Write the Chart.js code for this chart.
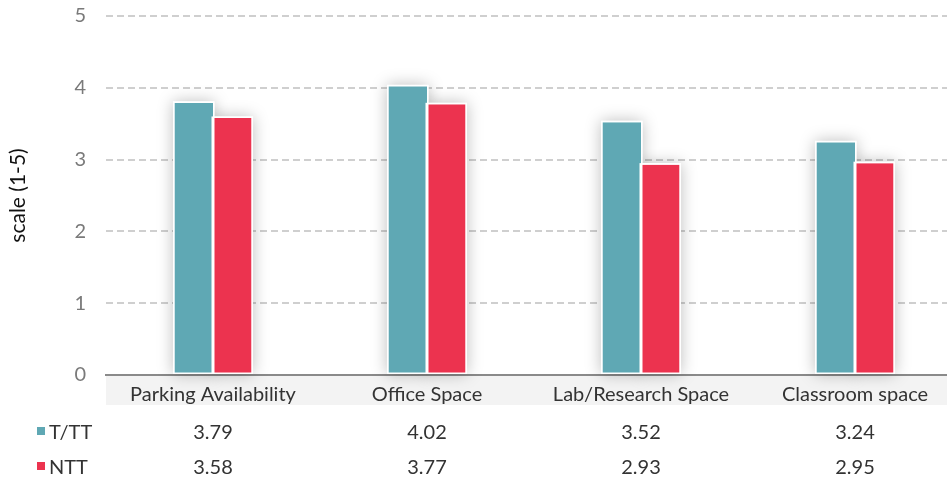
<!DOCTYPE html>
<html><head><meta charset="utf-8">
<script src="https://cdn.jsdelivr.net/npm/chart.js@4"></script>
<style>
html,body{margin:0;padding:0;background:#fff;overflow:hidden;width:947px;height:479px;}
#wrap{position:relative;width:962px;height:495px;margin-top:-16px;}
</style></head>
<body><div id="wrap"><canvas id="c"></canvas></div>
<script>
const categories = ["Parking Availability", "Office Space", "Lab/Research Space", "Classroom space"];
const seriesNames = ["T/TT", "NTT"];
const ttValues = [3.79, 4.02, 3.52, 3.24];
const nttValues = [3.58, 3.77, 2.93, 2.95];
const yTicks = [0, 1, 2, 3, 4, 5];
const colors = ["#5fa8b4", "#ec334f"];
const FONT = "Lato, 'Open Sans', sans-serif";

const shadowPlugin = {
  id: 'shadowBand',
  beforeDraw(chart) {
    const {ctx, chartArea} = chart;
    ctx.save();
    ctx.fillStyle = '#f3f3f3';
    ctx.fillRect(chartArea.left, chartArea.bottom + 1, chart.width - chartArea.left, 29);
    ctx.restore();
  },
  beforeDatasetsDraw(chart) {
    const {ctx} = chart;
    ctx.save();
    ctx.shadowColor = 'rgba(0,0,0,0.26)';
    ctx.shadowBlur = 16;
    ctx.fillStyle = '#ffffff';
    chart.data.datasets.forEach((ds, i) => {
      chart.getDatasetMeta(i).data.forEach(el => {
        const p = el.getProps(['x', 'y', 'base', 'width'], true);
        ctx.fillRect(p.x - p.width / 2 - 1.5, p.y - 1.5, p.width + 3, p.base - p.y + 1.5);
      });
    });
    ctx.restore();
  },
  afterDatasetsDraw(chart) {
    const {ctx} = chart;
    ctx.save();
    ctx.strokeStyle = '#ffffff';
    ctx.lineWidth = 1.5;
    chart.data.datasets.forEach((ds, i) => {
      chart.getDatasetMeta(i).data.forEach(el => {
        const p = el.getProps(['x', 'y', 'base', 'width'], true);
        ctx.strokeRect(p.x - p.width / 2 - 0.75, p.y - 0.75, p.width + 1.5, p.base - p.y);
      });
    });
    ctx.restore();
  },
  afterDraw(chart) {
    const {ctx, chartArea} = chart;
    const xs = chart.scales.x;
    const rows = [ttValues, nttValues];
    const rowY = [chartArea.bottom + 58, chartArea.bottom + 93];
    ctx.save();
    ctx.textBaseline = 'middle';
    ctx.font = "20px " + FONT;
    rows.forEach((vals, r) => {
      ctx.fillStyle = colors[r];
      ctx.fillRect(37, rowY[r] - 6, 8, 8);
      ctx.fillStyle = '#333';
      ctx.textAlign = 'left';
      ctx.fillText(seriesNames[r], 49, rowY[r]);
      ctx.textAlign = 'center';
      vals.forEach((v, i) => {
        ctx.fillText(v.toFixed(2), xs.getPixelForValue(i), rowY[r]);
      });
    });
    ctx.restore();
  }
};

new Chart(document.getElementById('c'), {
  type: 'bar',
  data: {
    labels: categories,
    datasets: [
      {label: seriesNames[0], data: ttValues, backgroundColor: colors[0], borderWidth: 0},
      {label: seriesNames[1], data: nttValues, backgroundColor: colors[1], borderWidth: 0}
    ]
  },
  options: {
    responsive: true,
    maintainAspectRatio: false,
    animation: false,
    events: [],
    layout: {padding: {top: 0, bottom: 74, left: 0, right: 0}},
    plugins: {legend: {display: false}, tooltip: {enabled: false}},
    datasets: {bar: {categoryPercentage: 0.36, barPercentage: 1.0}},
    scales: {
      x: {
        grid: {display: false, drawTicks: false},
        border: {display: true, color: '#8a8a8a', width: 2},
        ticks: {font: {size: 20, family: FONT}, color: '#333', padding: 8, maxRotation: 0},
        afterFit(s) { s.height = 30; }
      },
      y: {
        min: 0, max: 5,
        afterBuildTicks(s) { s.ticks = yTicks.map(v => ({value: v})); },
        grid: {color: (c) => c.tick && c.tick.value === 0 ? 'rgba(0,0,0,0)' : '#cfcfcf', lineWidth: 2, drawTicks: false},
        border: {display: false, dash: [7, 4]},
        ticks: {font: {size: 20, family: FONT}, color: '#7a7a7a', padding: 20},
        title: {display: true, text: 'scale (1-5)', font: {size: 21, family: FONT}, color: '#111', padding: {top: 6, bottom: 0}},
        afterFit(s) { s.width = 106; }
      }
    }
  },
  plugins: [shadowPlugin]
});
</script></body></html>
